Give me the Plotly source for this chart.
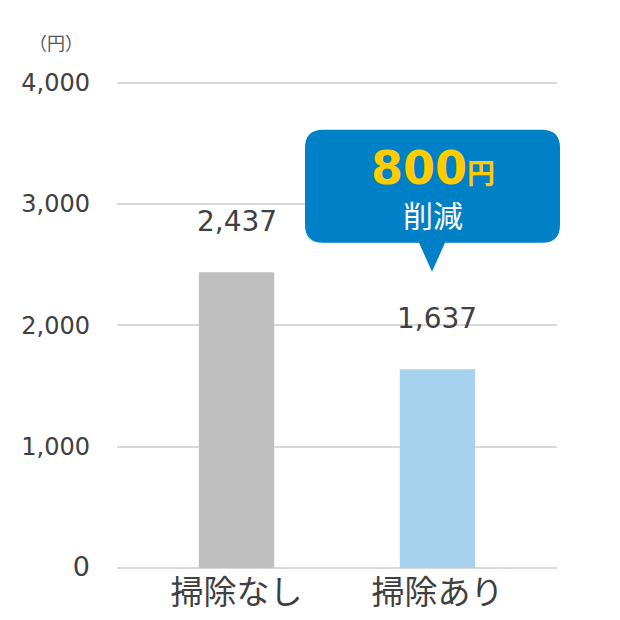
import plotly.graph_objects as go

# ---- data ----
categories = ["掃除なし", "掃除あり"]
values = [2437, 1637]
bar_colors = ["#BFBFBF", "#A6D2EE"]
y_ticks = [0, 1000, 2000, 3000, 4000]
saving = values[0] - values[1]  # 800

W, H = 620, 620
OFF = 8  # page body margin
Y_TOP = 4030  # a little headroom so the 4,000 gridline is drawn
PX_PER_UNIT = 485 / 4000
plot_h = Y_TOP * PX_PER_UNIT
L, R, B = 117 - OFF, 63 + OFF, 52 + OFF
T = H - B - plot_h

num_font = "DejaVu Sans, Noto Sans CJK JP"
jp_font = "Noto Sans CJK JP"


def px2paper(px, py):
    # screen pixel -> paper fraction
    return (px - OFF - L) / (W - L - R), (H - B - (py - OFF)) / plot_h


def callout_path(x0, y0, x1, y1, r, tip_x, tip_w, tip_y):
    # rounded box with a pointer under it, built in pixels then moved to paper units
    pts = [
        ("M", [(x0 + r, y0)]),
        ("L", [(x1 - r, y0)]),
        ("Q", [(x1, y0), (x1, y0 + r)]),
        ("L", [(x1, y1 - r)]),
        ("Q", [(x1, y1), (x1 - r, y1)]),
        ("L", [(tip_x + tip_w / 2, y1)]),
        ("L", [(tip_x, tip_y)]),
        ("L", [(tip_x - tip_w / 2, y1)]),
        ("L", [(x0 + r, y1)]),
        ("Q", [(x0, y1), (x0, y1 - r)]),
        ("L", [(x0, y0 + r)]),
        ("Q", [(x0, y0), (x0 + r, y0)]),
    ]
    out = []
    for cmd, coords in pts:
        s = " ".join("%.4f,%.4f" % px2paper(a, b) for a, b in coords)
        out.append(cmd + s)
    return " ".join(out) + " Z"


fig = go.Figure()
fig.add_trace(go.Bar(
    x=[0, 1],
    y=values,
    width=0.375,
    marker=dict(color=bar_colors, line=dict(width=0)),
    hoverinfo="skip",
))

# value labels above the bars
for i, v in enumerate(values):
    fig.add_annotation(
        x=i, y=v, xref="x", yref="y",
        text=f"{v:,}", showarrow=False,
        xanchor="center", yanchor="middle", yshift=51,
        font=dict(family=num_font, size=28, color="#404040"),
    )

# callout box
fig.add_shape(
    type="path", xref="paper", yref="paper",
    path=callout_path(305, 130, 560, 243, 18, 432, 26, 272),
    fillcolor="#0080C6", line=dict(width=0), layer="above",
)
cx, _ = px2paper(433, 0)
_, cy1 = px2paper(0, 168)
_, cy2 = px2paper(0, 214)
fig.add_annotation(
    x=cx, y=cy1, xref="paper", yref="paper", showarrow=False,
    text=f"<b>{saving}</b><b><span style='font-size:28px'>円</span></b>",
    font=dict(family=num_font, size=46, color="#FFCC00"),
    xanchor="center", yanchor="middle",
)
fig.add_annotation(
    x=cx, y=cy2, xref="paper", yref="paper", showarrow=False,
    text="削減",
    font=dict(family=jp_font, size=30, color="#FFFFFF"),
    xanchor="center", yanchor="middle",
)

# unit label
ux, uy = px2paper(56, 42)
fig.add_annotation(
    x=ux, y=uy, xref="paper", yref="paper", showarrow=False,
    text="（円）", xanchor="center", yanchor="middle",
    font=dict(family=jp_font, size=18, color="#595959"),
)

tick_text = [
    f"<span style='font-size:27px'>{t:,}</span>" if t == 0 else f"{t:,}"
    for t in y_ticks
]

fig.update_layout(
    width=W, height=H,
    margin=dict(l=L, r=R, t=T, b=B),
    paper_bgcolor="white", plot_bgcolor="white",
    showlegend=False,
    font=dict(family=num_font, color="#404040"),
)
fig.update_xaxes(
    range=[-0.595, 1.595],
    tickvals=[0, 1], ticktext=categories,
    tickfont=dict(family=jp_font, size=33, color="#404040"),
    showgrid=False, zeroline=False, showline=False,
    ticks="", ticklabelstandoff=2,
)
fig.update_yaxes(
    range=[0, Y_TOP],
    tickvals=y_ticks, ticktext=tick_text,
    tickfont=dict(family=num_font, size=24, color="#404040"),
    showgrid=True, gridcolor="#D9D9D9", gridwidth=2,
    zeroline=True, zerolinecolor="#D9D9D9", zerolinewidth=2,
    showline=False, ticks="", ticklabelstandoff=26,
)

fig.write_html("out.html")
